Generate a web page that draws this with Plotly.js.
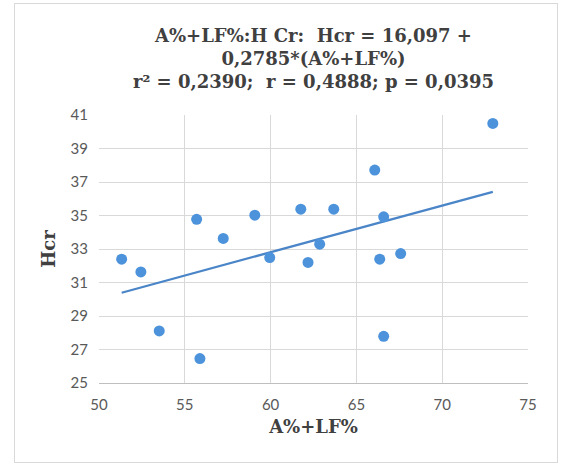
<!DOCTYPE html>
<html>
<head>
<meta charset="utf-8">
<script src="https://cdn.plot.ly/plotly-3.0.1.min.js"></script>
<style>
html,body{margin:0;padding:0;background:#fff;}
#wrap{position:relative;width:561px;height:463px;}
#chart{position:absolute;left:0;top:0;width:561px;height:463px;}
#frame{position:absolute;left:14px;top:3px;width:542px;height:458px;border:1px solid #d9d9d9;pointer-events:none;}
</style>
</head>
<body>
<div id="wrap"><div id="chart"></div><div id="frame"></div></div>
<script>
// Data
const xValues = [51.32, 52.44, 53.51, 55.69, 55.88, 57.24, 59.08, 59.95, 61.76, 62.18, 62.86, 63.68, 66.07, 66.36, 66.59, 66.59, 67.58, 72.95];
const yValues = [32.39, 31.63, 28.11, 34.77, 26.46, 33.63, 35.02, 32.49, 35.38, 32.20, 33.29, 35.38, 37.71, 32.39, 34.92, 27.79, 32.73, 40.50];
// Regression reported in the title
const intercept = 16.097;
const slope = 0.2785;
const xTicks = [50, 55, 60, 65, 70, 75];
const yTicks = [25, 27, 29, 31, 33, 35, 37, 39, 41];
const titleText = "A%+LF%:H Cr:  Hcr = 16,097 +<br>0,2785*(A%+LF%)<br>r² = 0,2390;  r = 0,4888; p = 0,0395";

const xMin = Math.min(...xValues), xMax = Math.max(...xValues);
const trendX = [xMin, xMax];
const trendY = trendX.map(v => intercept + slope * v);

const data = [
  {x: trendX, y: trendY, mode: 'lines', type: 'scatter',
   line: {color: '#4A85C8', width: 2.25}, hoverinfo: 'skip'},
  {x: xValues, y: yValues, mode: 'markers', type: 'scatter',
   marker: {color: '#4D93DB', size: 11, line: {width: 0}}}
];

const serif = '"DejaVu Serif", "Liberation Serif", serif';
const tickFont = {family: 'Lato, "Open Sans", sans-serif', size: 15, color: '#595959'};
const layout = {
  width: 561, height: 463,
  margin: {l: 99, r: 32.5, t: 115, b: 80, pad: 0},
  paper_bgcolor: '#ffffff', plot_bgcolor: '#ffffff',
  showlegend: false,
  title: {text: titleText, font: {family: serif, size: 18, color: '#404040', weight: 'bold'},
          x: 0.5, xanchor: 'center', xref: 'paper', yref: 'container', y: 1 - 41.5/463, yanchor: 'top'},
  xaxis: {range: [50, 75], tickvals: xTicks, ticktext: xTicks.map(String),
          showgrid: true, gridcolor: '#d9d9d9', gridwidth: 1, zeroline: false,
          showline: true, linecolor: '#bfbfbf', linewidth: 1, ticks: '', ticklen: 0,
          tickfont: tickFont, ticklabelstandoff: 8,
          title: {text: 'A%+LF%', font: {family: serif, size: 18, color: '#404040', weight: 'bold'}, standoff: 8}},
  yaxis: {range: [25, 41], tickvals: yTicks, ticktext: yTicks.map(String),
          showgrid: true, gridcolor: '#d9d9d9', gridwidth: 1, zeroline: false,
          showline: false, ticks: '', ticklen: 0,
          tickfont: tickFont, ticklabelstandoff: 10,
          title: {text: 'Hcr', font: {family: serif, size: 18, color: '#404040', weight: 'bold'}, standoff: 10}}
};

Plotly.newPlot('chart', data, layout, {displayModeBar: false, staticPlot: true});
</script>
</body>
</html>
